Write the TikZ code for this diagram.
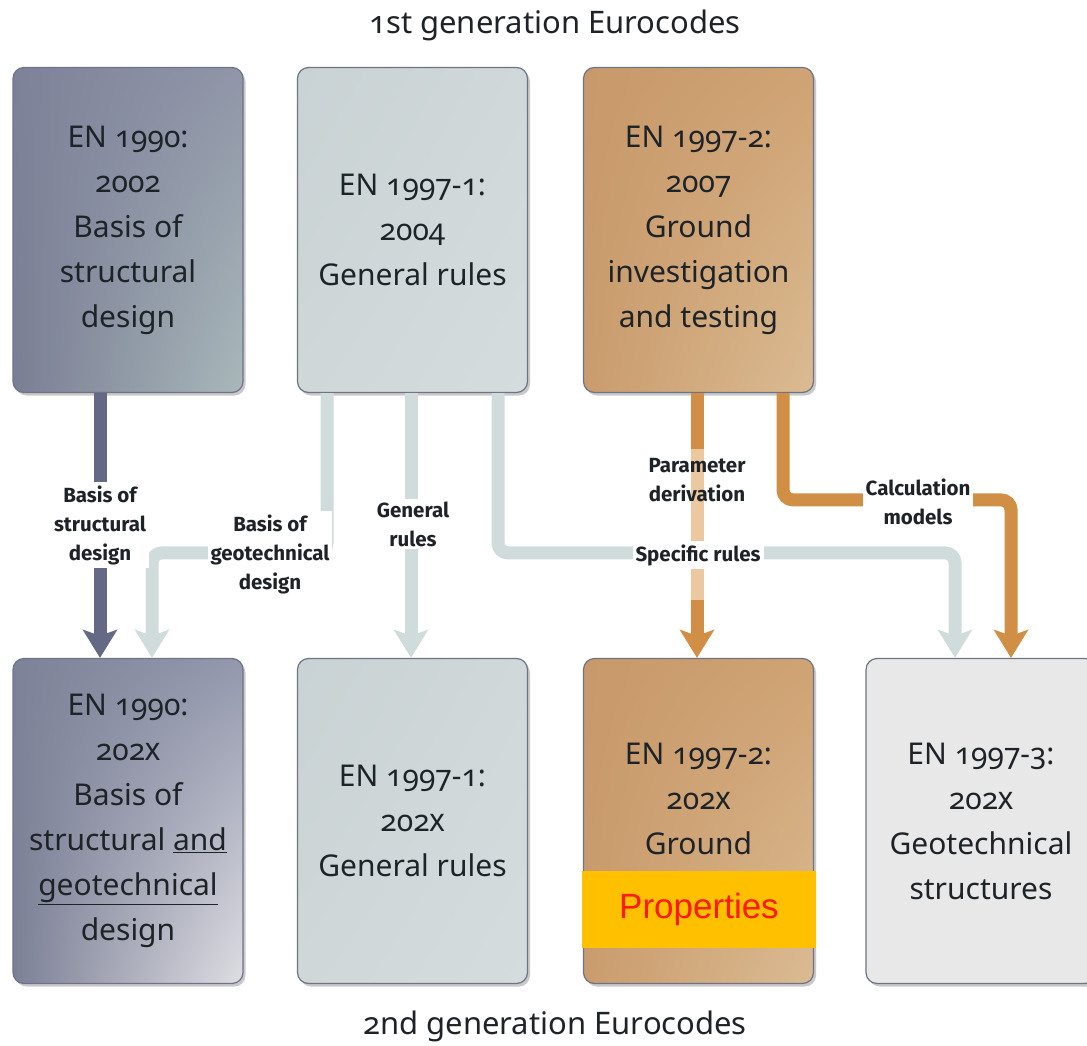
\documentclass[tikz,border=0pt]{standalone}
\usepackage{fontspec}
\setmainfont{Noto Sans}[Numbers=OldStyle]
\newfontfamily\labfont{Fira Sans}
\newfontfamily\arialfont{Liberation Sans}
\usetikzlibrary{arrows.meta,shadows,shadings}
\definecolor{txt}{HTML}{1E2328}
\definecolor{boxedge}{HTML}{6E7387}
\definecolor{darkline}{HTML}{656985}
\definecolor{lightline}{HTML}{D0DCDC}
\definecolor{orangeline}{HTML}{D18E45}
\definecolor{paleorange}{HTML}{EBC8A0}
\definecolor{propyellow}{HTML}{FFC000}
\definecolor{propred}{HTML}{FF1A00}
\definecolor{saUL}{HTML}{7E8299}
\definecolor{saUR}{HTML}{9096A8}
\definecolor{saLL}{HTML}{7A7E94}
\definecolor{saLR}{HTML}{A9B8BA}
\definecolor{sbUL}{HTML}{7E8298}
\definecolor{sbUR}{HTML}{9398AD}
\definecolor{sbLL}{HTML}{7C8096}
\definecolor{sbLR}{HTML}{DEDEE3}
\definecolor{gUL}{HTML}{C9D2D4}
\definecolor{gUR}{HTML}{D0D8D9}
\definecolor{gLL}{HTML}{CFD7D8}
\definecolor{gLR}{HTML}{D5DCDD}
\definecolor{tUL}{HTML}{C8996A}
\definecolor{tUR}{HTML}{CFA374}
\definecolor{tLL}{HTML}{C99C6D}
\definecolor{tLR}{HTML}{DBBB93}
\definecolor{paleg}{HTML}{E8E8E8}
\begin{document}
\begin{tikzpicture}[x=1pt,y=-1pt,
  box/.style={rounded corners=11pt, draw=boxedge, line width=1.2pt,
    minimum width=230pt, minimum height=325pt, inner sep=0pt, align=center,
    text=txt, font=\fontsize{30}{45}\selectfont,
    drop shadow={shadow xshift=2.5pt, shadow yshift=-3pt, opacity=0.3, fill=black!70}},
  slatebox/.style={box, upper left=saUL, upper right=saUR, lower left=saLL, lower right=saLR},
  slatebox2/.style={box, upper left=sbUL, upper right=sbUR, lower left=sbLL, lower right=sbLR},
  greybox/.style={box, upper left=gUL, upper right=gUR, lower left=gLL, lower right=gLR},
  tanbox/.style={box, upper left=tUL, upper right=tUR, lower left=tLL, lower right=tLR},
  paleBox/.style={box, fill=paleg},
  conn/.style={line width=13pt, rounded corners=10pt,
    -{Stealth[length=28pt,width=34pt,inset=6pt]}},
  lab/.style={fill=white, inner sep=3pt, align=center, text=txt,
    font=\labfont\bfseries\fontsize{20.5}{29}\selectfont},
  title/.style={text=txt, font=\fontsize{31}{34}\selectfont}
]
\useasboundingbox (0,0) rectangle (1087,1046);
\clip (0,0) rectangle (1087,1046);

% titles
\node[title] (t1) at (555,25) {1st generation Eurocodes};
\node[title] (t2) at (555,1026) {2nd generation Eurocodes};

% boxes, first generation
\node[slatebox] (A) at (128,230) {EN 1990:\\2002\\Basis of\\structural\\design};
\node[greybox] (B) at (412.5,230) {EN 1997-1:\\2004\\General rules};
\node[tanbox] (C) at (698.5,230) {EN 1997-2:\\2007\\Ground\\investigation\\and testing};

% boxes, second generation
\node[slatebox2] (D) at (128,821) {EN 1990:\\202\textsc{x}\\Basis of\\structural \underline{and}\\\underline{geotechnical}\\design};
\node[greybox] (E) at (412.5,821) {EN 1997-1:\\202\textsc{x}\\General rules};
\node[tanbox] (F) at (698.5,821) {EN 1997-2:\\202\textsc{x}\\Ground\\\mbox{}};
\node[paleBox] (G) at (981,821) {EN 1997-3:\\202\textsc{x}\\Geotechnical\\structures};
\node[fill=propyellow, minimum width=234pt, minimum height=77pt, inner sep=0pt,
  text=propred, font=\arialfont\fontsize{35}{40}\selectfont] (P) at (699,909.5) {Properties};

% connectors
\draw[conn, lightline] ([xshift=-85.5pt]B.south) |- ([xshift=24pt,yshift=105pt]D.north) -- ([xshift=24pt]D.north);
\draw[conn, lightline] ([xshift=-1.5pt]B.south) -- ([xshift=-1.5pt]E.north);
\draw[conn, lightline] ([xshift=85.5pt]B.south) |- ([xshift=-26pt,yshift=105pt]G.north) -- ([xshift=-26pt]G.north);
\draw[conn, orangeline] ([xshift=-1.5pt]C.south) -- ([xshift=-1.5pt]F.north);
\draw[line width=13pt, paleorange] ([xshift=-1.5pt,yshift=-56pt]C.south) -- ([xshift=-1.5pt,yshift=58pt]F.north);
\draw[conn, orangeline] ([xshift=84.5pt]C.south) |- ([xshift=30pt,yshift=158pt]G.north) -- ([xshift=30pt]G.north);
\draw[conn, darkline] ([xshift=-28pt]A.south) -- ([xshift=-28pt]D.north);

% connector labels
\node[lab] (l1) at (100,525) {Basis of\\structural\\design};
\node[lab] (l2) at (270,554) {Basis of\\geotechnical\\design};
\node[lab] (l3) at (413,524) {General\\rules};
\node[lab, fill=none] (l4) at (697,480) {Parameter\\derivation};
\node[lab] (l5) at (698,555) {Specific rules};
\node[lab] (l6) at (918,502) {Calculation\\models};
\end{tikzpicture}
\end{document}
